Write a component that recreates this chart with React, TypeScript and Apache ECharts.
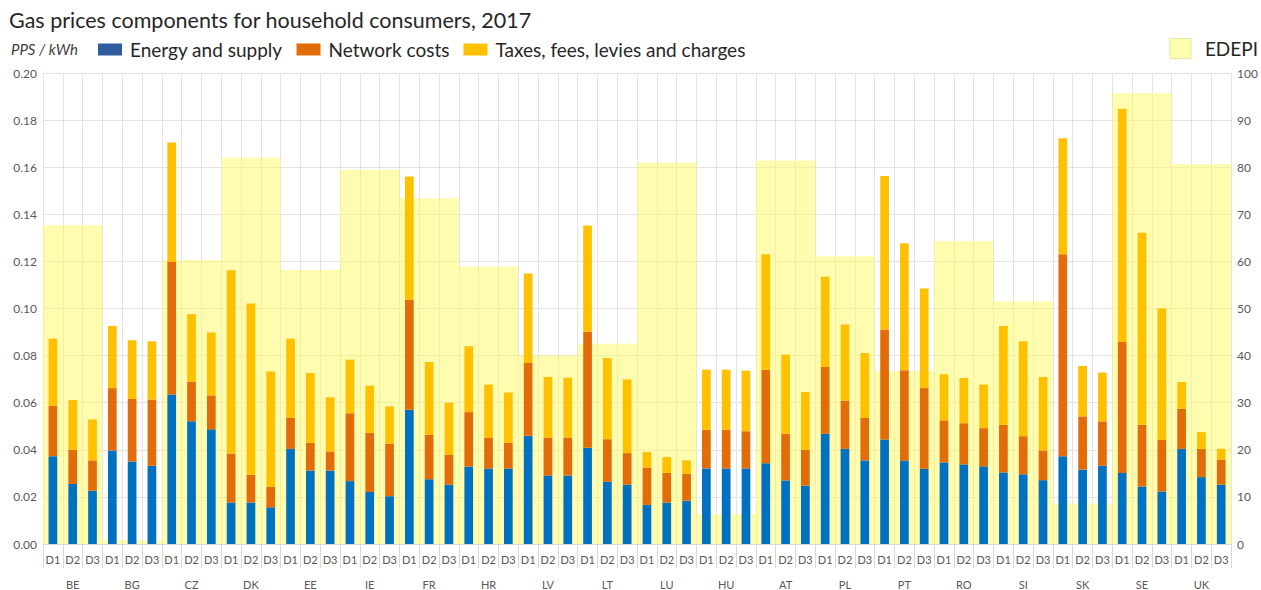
import React, { useEffect, useRef } from "react";
import * as echarts from "echarts";

const countries = ["BE", "BG", "CZ", "DK", "EE", "IE", "FR", "HR", "LV", "LT", "LU", "HU", "AT", "PL", "PT", "RO", "SI", "SK", "SE", "UK"];
const bands = ["D1", "D2", "D3"];

// EDEPI index (right axis) per country
const edepi = [67.7, 0.8, 60.3, 82.0, 58.2, 79.4, 73.4, 58.9, 40.1, 42.5, 81.0, 6.3, 81.4, 61.1, 36.7, 64.3, 51.5, 8.6, 95.7, 80.6];

// PPS / kWh components per country-band (D1, D2, D3 per country)
const energySupply = [
  0.0373, 0.0255, 0.0226, // BE
  0.0397, 0.0350, 0.0332, // BG
  0.0635, 0.0521, 0.0487, // CZ
  0.0176, 0.0176, 0.0156, // DK
  0.0404, 0.0312, 0.0312, // EE
  0.0267, 0.0221, 0.0203, // IE
  0.0570, 0.0275, 0.0252, // FR
  0.0329, 0.0321, 0.0321, // HR
  0.0460, 0.0291, 0.0291, // LV
  0.0409, 0.0264, 0.0252, // LT
  0.0166, 0.0176, 0.0184, // LU
  0.0321, 0.0321, 0.0321, // HU
  0.0343, 0.0270, 0.0248, // AT
  0.0468, 0.0404, 0.0355, // PL
  0.0444, 0.0355, 0.0319, // PT
  0.0346, 0.0338, 0.0330, // RO
  0.0304, 0.0296, 0.0271, // SI
  0.0373, 0.0316, 0.0332, // SK
  0.0302, 0.0244, 0.0223, // SE
  0.0404, 0.0284, 0.0252, // UK
];
const networkCosts = [
  0.0213, 0.0145, 0.0129,
  0.0265, 0.0266, 0.0281,
  0.0565, 0.0168, 0.0144,
  0.0208, 0.0118, 0.0088,
  0.0132, 0.0118, 0.0081,
  0.0288, 0.0251, 0.0223,
  0.0467, 0.0189, 0.0128,
  0.0231, 0.0129, 0.0109,
  0.0309, 0.0161, 0.0161,
  0.0492, 0.0181, 0.0134,
  0.0159, 0.0126, 0.0114,
  0.0164, 0.0164, 0.0158,
  0.0397, 0.0198, 0.0152,
  0.0284, 0.0205, 0.0180,
  0.0467, 0.0383, 0.0343,
  0.0179, 0.0175, 0.0162,
  0.0202, 0.0162, 0.0126,
  0.0857, 0.0226, 0.0189,
  0.0556, 0.0262, 0.0220,
  0.0170, 0.0120, 0.0107,
];
const taxesLevies = [
  0.0286, 0.0211, 0.0174,
  0.0264, 0.0249, 0.0248,
  0.0505, 0.0287, 0.0267,
  0.0778, 0.0727, 0.0489,
  0.0336, 0.0296, 0.0230,
  0.0228, 0.0200, 0.0158,
  0.0523, 0.0309, 0.0220,
  0.0280, 0.0227, 0.0213,
  0.0380, 0.0257, 0.0254,
  0.0451, 0.0345, 0.0313,
  0.0065, 0.0067, 0.0057,
  0.0255, 0.0255, 0.0257,
  0.0490, 0.0336, 0.0245,
  0.0383, 0.0323, 0.0276,
  0.0652, 0.0539, 0.0423,
  0.0196, 0.0192, 0.0185,
  0.0420, 0.0403, 0.0312,
  0.0493, 0.0214, 0.0207,
  0.0990, 0.0816, 0.0557,
  0.0114, 0.0071, 0.0045,
];

const bandCategories = countries.flatMap(() => bands);

const FONT = "Lato";
const GRID = "#E3E3E3";
const LABEL = "#595959";

export default function App() {
  const ref = useRef<HTMLDivElement>(null);
  useEffect(() => {
    if (!ref.current) return;
    const chart = echarts.init(ref.current, null, { renderer: "svg" });
    chart.setOption({
      animation: false,
      textStyle: { fontFamily: FONT },
      title: {
        text: "Gas prices components for household consumers, 2017",
        left: 4,
        top: 4,
        textStyle: { fontFamily: FONT, fontSize: 21.5, fontWeight: "normal", color: "#262626" },
      },
      graphic: [
        {
          type: "text",
          left: 11,
          top: 41,
          style: { text: "PPS / kWh", fontFamily: FONT, fontSize: 15, fontStyle: "italic", fill: "#404040" },
        },
      ],
      legend: [
        {
          left: 98,
          top: 40,
          padding: 0,
          itemWidth: 24,
          itemHeight: 12,
          itemGap: 14,
          icon: "rect",
          textStyle: { fontFamily: FONT, fontSize: 19, color: "#262626", padding: [0, 0, 0, 3] },
          data: [
            { name: "Energy and supply", itemStyle: { color: "#2F5C9E" } },
            { name: "Network costs", itemStyle: { color: "#E36C0A" } },
            { name: "Taxes, fees, levies and charges", itemStyle: { color: "#FFC000" } },
          ],
        },
        {
          right: 3,
          top: 38,
          padding: 0,
          itemWidth: 21,
          itemHeight: 20,
          itemGap: 0,
          icon: "rect",
          textStyle: { fontFamily: FONT, fontSize: 19, color: "#262626", padding: [0, 0, 0, 9] },
          data: [{ name: "EDEPI", itemStyle: { color: "#FFFDB0", borderColor: "#E8E6A0", borderWidth: 1 } }],
        },
      ],
      grid: { left: 43, right: 28, top: 73, bottom: 46, containLabel: false },
      xAxis: [
        {
          type: "category",
          data: bandCategories,
          position: "bottom",
          axisLine: { lineStyle: { color: "#D9D9D9" } },
          axisTick: { show: true, interval: 0, length: 24, lineStyle: { color: "#D9D9D9" } },
          axisLabel: { interval: 0, fontSize: 11, color: LABEL, margin: 10, fontFamily: FONT },
          splitLine: { show: true, interval: 0, lineStyle: { color: GRID } },
        },
        {
          type: "category",
          data: countries,
          position: "bottom",
          offset: 24,
          axisLine: { show: false },
          axisTick: { show: true, interval: 0, length: 24, lineStyle: { color: "#D9D9D9" } },
          axisLabel: { interval: 0, fontSize: 11, color: LABEL, margin: 11, fontFamily: FONT },
          splitLine: { show: false },
        },
      ],
      yAxis: [
        {
          type: "value",
          min: 0,
          max: 0.2,
          interval: 0.02,
          axisLabel: { formatter: (v: number) => v.toFixed(2), fontSize: 12, color: LABEL, margin: 6, fontFamily: FONT },
          splitLine: { lineStyle: { color: GRID } },
          axisLine: { show: false },
          axisTick: { show: false },
        },
        {
          type: "value",
          min: 0,
          max: 100,
          interval: 10,
          axisLabel: { fontSize: 12, color: LABEL, margin: 6, fontFamily: FONT },
          splitLine: { show: false },
          axisLine: { show: false },
          axisTick: { show: false },
        },
      ],
      series: [
        {
          name: "EDEPI",
          type: "bar",
          xAxisIndex: 1,
          yAxisIndex: 1,
          barWidth: "100%",
          data: edepi,
          itemStyle: { color: "rgba(255,250,110,0.55)" },
          z: 1,
        },
        {
          name: "Energy and supply",
          type: "bar",
          stack: "p",
          xAxisIndex: 0,
          yAxisIndex: 0,
          barWidth: "44%",
          data: energySupply,
          itemStyle: { color: "#0070C0" },
          z: 3,
        },
        {
          name: "Network costs",
          type: "bar",
          stack: "p",
          xAxisIndex: 0,
          yAxisIndex: 0,
          barWidth: "44%",
          data: networkCosts,
          itemStyle: { color: "#E36C0A" },
          z: 3,
        },
        {
          name: "Taxes, fees, levies and charges",
          type: "bar",
          stack: "p",
          xAxisIndex: 0,
          yAxisIndex: 0,
          barWidth: "44%",
          data: taxesLevies,
          itemStyle: { color: "#FFC000" },
          z: 3,
        },
      ],
    });
    return () => chart.dispose();
  }, []);
  return (
    <div
      ref={ref}
      style={{ position: "fixed", left: 0, top: 0, width: 1261, height: 590, background: "#fff" }}
    />
  );
}
